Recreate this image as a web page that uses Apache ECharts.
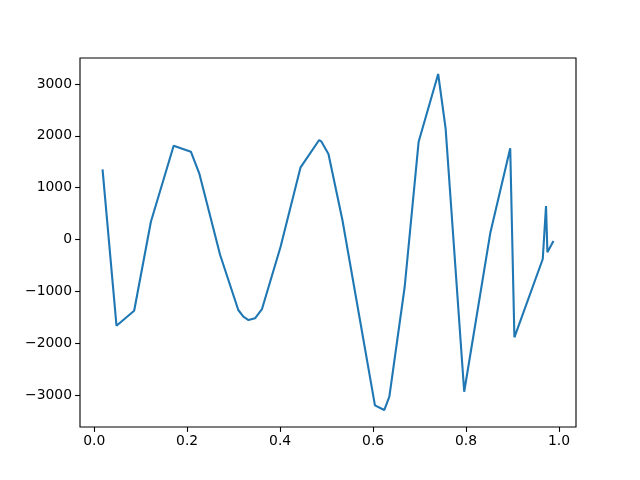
<!DOCTYPE html>
<html>
<head>
<meta charset="utf-8">
<script src="https://cdn.jsdelivr.net/npm/echarts@6/dist/echarts.min.js"></script>
<style>
  html, body { margin: 0; padding: 0; background: #fff; }
  #chart { width: 640px; height: 480px; }
</style>
</head>
<body>
<div id="chart"></div>
<script>
// values
const xValues = [0.018, 0.048, 0.086, 0.122, 0.171, 0.208, 0.226, 0.271, 0.310, 0.321,
  0.332, 0.346, 0.361, 0.401, 0.444, 0.484, 0.489, 0.504, 0.534, 0.604,
  0.624, 0.635, 0.668, 0.698, 0.740, 0.756, 0.796, 0.852, 0.895, 0.904,
  0.965, 0.972, 0.975, 0.988];
const yValues = [1354, -1663, -1374, 343, 1810, 1694, 1277, -299, -1360, -1489,
  -1553, -1520, -1341, -139, 1393, 1920, 1887, 1650, 376, -3199,
  -3290, -3033, -911, 1887, 3193, 2145, -2937, 120, 1760, -1887,
  -376, 646, -247, -29];
const xTicks = [0, 0.2, 0.4, 0.6, 0.8, 1.0];
const yTicks = [-3000, -2000, -1000, 0, 1000, 2000, 3000];

const chart = echarts.init(document.getElementById('chart'));

const labelFont = {
  fontFamily: 'DejaVu Sans',
  fontSize: 13.9,
  color: '#000'
};

chart.setOption({
  animation: false,
  grid: {
    left: 80,
    right: 64,
    top: 58,
    bottom: 53,
    show: true,
    borderColor: '#000',
    borderWidth: 1.1,
    backgroundColor: 'transparent'
  },
  xAxis: {
    type: 'value',
    min: -0.0305,
    max: 1.0365,
    splitLine: {show: false},
    axisLine: {show: false, onZero: false},
    axisTick: {
      show: true,
      length: 4.9,
      customValues: xTicks,
      lineStyle: {color: '#000', width: 1.1}
    },
    axisLabel: {
      ...labelFont,
      margin: 7,
      customValues: xTicks,
      formatter: v => v.toFixed(1)
    }
  },
  yAxis: {
    type: 'value',
    min: -3617,
    max: 3502,
    splitLine: {show: false},
    axisLine: {show: false, onZero: false},
    axisTick: {
      show: true,
      length: 4.9,
      customValues: yTicks,
      lineStyle: {color: '#000', width: 1.1}
    },
    axisLabel: {
      ...labelFont,
      margin: 8,
      customValues: yTicks,
      formatter: v => String(v).replace('-', '\u2212')
    }
  },
  series: [{
    type: 'line',
    data: xValues.map((x, i) => [x, yValues[i]]),
    showSymbol: false,
    symbol: 'none',
    lineStyle: {color: '#1f77b4', width: 2.1},
    itemStyle: {color: '#1f77b4'}
  }]
});
</script>
</body>
</html>
